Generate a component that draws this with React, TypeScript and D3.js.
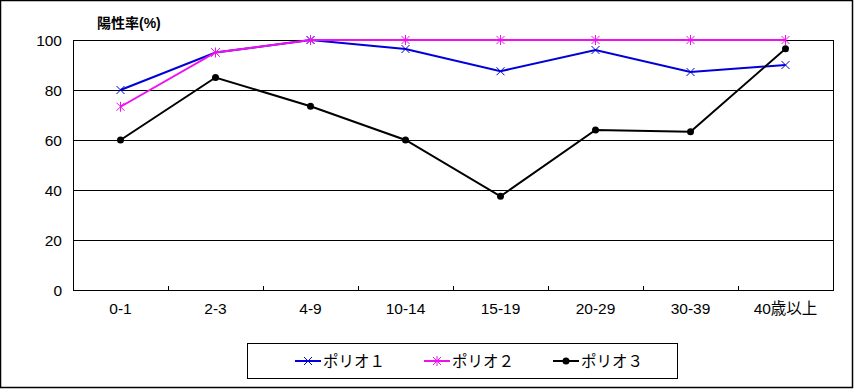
import React, { useRef, useEffect } from 'react';
import * as d3 from 'd3';

const categories = ['0-1', '2-3', '4-9', '10-14', '15-19', '20-29', '30-39', '40歳以上'];
const polio1 = [80, 95, 100, 96.4, 87.5, 96, 87.2, 90];
const polio2 = [73.3, 95, 100, 100, 100, 100, 100, 100];
const polio3 = [60, 85, 73.5, 60, 37.5, 64, 63.3, 96.5];
const seriesNames = ['ポリオ１', 'ポリオ２', 'ポリオ３'];
const seriesColors = ['#0000d8', '#ee11ee', '#000000'];
const yTicks = [0, 20, 40, 60, 80, 100];

const W = 855;
const H = 389;
const FONT = '"Liberation Sans", "Noto Sans CJK JP", Arial, sans-serif';

const drawMarker = (g: any, kind: number, x: number, y: number, color: string) => {
  const s = 4;
  if (kind === 0) {
    g.append('path').attr('d', `M${x - s},${y - s}L${x + s},${y + s}M${x - s},${y + s}L${x + s},${y - s}`)
      .attr('stroke', color).attr('stroke-width', 1).attr('fill', 'none');
  } else if (kind === 1) {
    g.append('path').attr('d', `M${x - s},${y - s}L${x + s},${y + s}M${x - s},${y + s}L${x + s},${y - s}M${x},${y - s - 1}L${x},${y + s + 1}`)
      .attr('stroke', color).attr('stroke-width', 1).attr('fill', 'none');
  } else {
    g.append('circle').attr('cx', x).attr('cy', y).attr('r', 3.5).attr('fill', color);
  }
};

const App: React.FC = () => {
  const svgRef = useRef<SVGSVGElement>(null);

  useEffect(() => {
    document.body.style.margin = '0';
    if (!svgRef.current) return;
    const svg = d3.select(svgRef.current);
    svg.selectAll('*').remove();

    const plot = { left: 73, top: 40, right: 833, bottom: 290 };

    svg.append('rect').attr('x', 0.5).attr('y', 0.5).attr('width', 852).attr('height', 387)
      .attr('fill', '#fff').attr('stroke', '#000').attr('stroke-width', 1.5);

    const x = d3.scaleBand().domain(categories).range([plot.left, plot.right]);
    const y = d3.scaleLinear().domain([0, 100]).range([plot.bottom, plot.top]);

    // gridlines
    svg.append('g').selectAll('line').data(yTicks.filter(t => t > 0)).join('line')
      .attr('x1', plot.left).attr('x2', plot.right)
      .attr('y1', d => y(d) + 0.5).attr('y2', d => y(d) + 0.5)
      .attr('stroke', '#000').attr('stroke-width', 1);

    svg.append('rect').attr('x', plot.left + 0.5).attr('y', plot.top + 0.5)
      .attr('width', plot.right - plot.left).attr('height', plot.bottom - plot.top)
      .attr('fill', 'none').attr('stroke', '#000').attr('stroke-width', 1);

    // y labels
    svg.append('g').selectAll('text').data(yTicks).join('text')
      .attr('x', 62).attr('y', d => y(d) + 5.5)
      .attr('text-anchor', 'end').attr('font-family', FONT).attr('font-size', 15.5)
      .text(d => d);

    // x ticks (inside)
    svg.append('g').selectAll('line').data(categories.slice(1)).join('line')
      .attr('x1', d => (x(d) as number) + 0.5).attr('x2', d => (x(d) as number) + 0.5)
      .attr('y1', plot.bottom).attr('y2', plot.bottom - 4)
      .attr('stroke', '#000');

    svg.append('g').selectAll('text').data(categories).join('text')
      .attr('x', d => (x(d) as number) + x.bandwidth() / 2).attr('y', 314)
      .attr('text-anchor', 'middle').attr('font-family', FONT).attr('font-size', 15.5)
      .text(d => d);

    svg.append('text').attr('x', 97).attr('y', 28).attr('font-family', FONT)
      .attr('font-size', 14).attr('font-weight', 'bold').text('陽性率(%)');

    const cx = (i: number) => (x(categories[i]) as number) + x.bandwidth() / 2;
    const line = d3.line<number>().x((_, i) => cx(i)).y(d => y(d));

    [polio1, polio2, polio3].forEach((vals, k) => {
      const g = svg.append('g');
      g.append('path').attr('d', line(vals)).attr('fill', 'none')
        .attr('stroke', seriesColors[k]).attr('stroke-width', 2);
      vals.forEach((v, i) => drawMarker(g, k, cx(i), y(v), seriesColors[k]));
    });

    // legend
    const lg = svg.append('g');
    lg.append('rect').attr('x', 247.5).attr('y', 343.5).attr('width', 430).attr('height', 35)
      .attr('fill', '#fff').attr('stroke', '#000').attr('stroke-width', 1);
    const legX = [295, 424, 553];
    seriesNames.forEach((name, k) => {
      const lx = legX[k];
      lg.append('line').attr('x1', lx).attr('x2', lx + 26).attr('y1', 361).attr('y2', 361)
        .attr('stroke', seriesColors[k]).attr('stroke-width', 2);
      drawMarker(lg, k, lx + 13, 361, seriesColors[k]);
      lg.append('text').attr('x', lx + 28).attr('y', 367).attr('font-family', FONT)
        .attr('font-size', 15.5).text(name);
    });
  }, []);

  return <svg ref={svgRef} width={W} height={H} style={{ display: 'block' }} />;
};

export default App;
